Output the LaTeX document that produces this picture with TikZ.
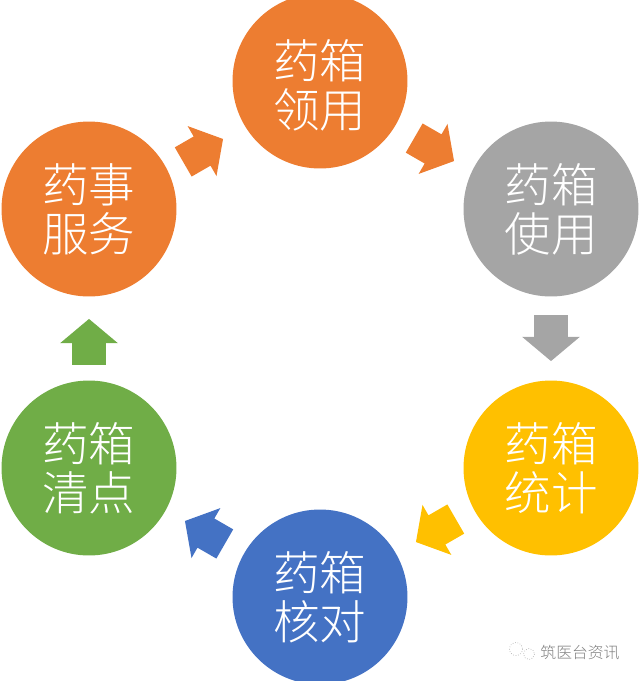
\documentclass[tikz,border=0pt]{standalone}
\usepackage{fontspec}
\newfontfamily\cjk{Noto Sans CJK SC Light}
\usetikzlibrary{shapes.arrows}
\definecolor{boxorange}{HTML}{ED7D31}
\definecolor{boxgray}{HTML}{A5A5A5}
\definecolor{boxgold}{HTML}{FFC000}
\definecolor{boxblue}{HTML}{4472C4}
\definecolor{boxgreen}{HTML}{70AD47}
\tikzset{
	stage/.style={circle, inner sep=0pt, minimum size=3.5cm, align=center, text=white,
		font=\cjk\fontsize{26.5}{28}\selectfont},
	flow/.style={single arrow, draw=none, inner sep=0pt, minimum height=0.92cm,
		single arrow head extend=0.24cm, single arrow tip angle=100}
}
\newcommand{\shaft}{\rule{0pt}{0.66cm}}
\begin{document}
\begin{tikzpicture}[x=0.02cm, y=-0.02cm]
			%%%%% START %%%%%
			
			\useasboundingbox (0, 0) rectangle (640, 681);
			
			\node[stage, fill=boxorange] (lingyong) at (320, 81) {};
			\node[stage] (lingyongtext) at (320, 85) {药箱\\领用};
			\node[stage, fill=boxgray] (shiyong) at (551, 209) {药箱\\使用};
			\node[stage, fill=boxgold] (tongji) at (551, 468) {药箱\\统计};
			\node[stage, fill=boxblue] (hedui) at (320, 597) {药箱\\核对};
			\node[stage, fill=boxgreen] (qingdian) at (89, 468) {药箱\\清点};
			\node[stage, fill=boxorange] (fuwu) at (89, 209) {药事\\服务};
			
			\node[flow, fill=boxorange, rotate=-30] (arrowa) at (428, 146) {\shaft};
			\node[flow, fill=boxgray, rotate=-90] (arrowb) at (551, 331) {\shaft};
			\node[flow, fill=boxgold, rotate=210] (arrowc) at (442, 527) {\shaft};
			\node[flow, fill=boxblue, rotate=150] (arrowd) at (211, 536) {\shaft};
			\node[flow, fill=boxgreen, rotate=90] (arrowe) at (89, 349) {\shaft};
			\node[flow, fill=boxorange, rotate=30] (arrowf) at (197, 154) {\shaft};
			
			\draw[black!30, densely dotted, line width=0.4pt] (516, 649) circle (6.5);
			\draw[black!30, densely dotted, line width=0.4pt] (529, 654) circle (5.5);
			\node[text=black!50, inner sep=0pt, font=\cjk\fontsize{9}{9}\selectfont] (logo) at (580, 653) {筑医台资讯};
			
			%%%%% END %%%%%
		\end{tikzpicture}
\end{document}
